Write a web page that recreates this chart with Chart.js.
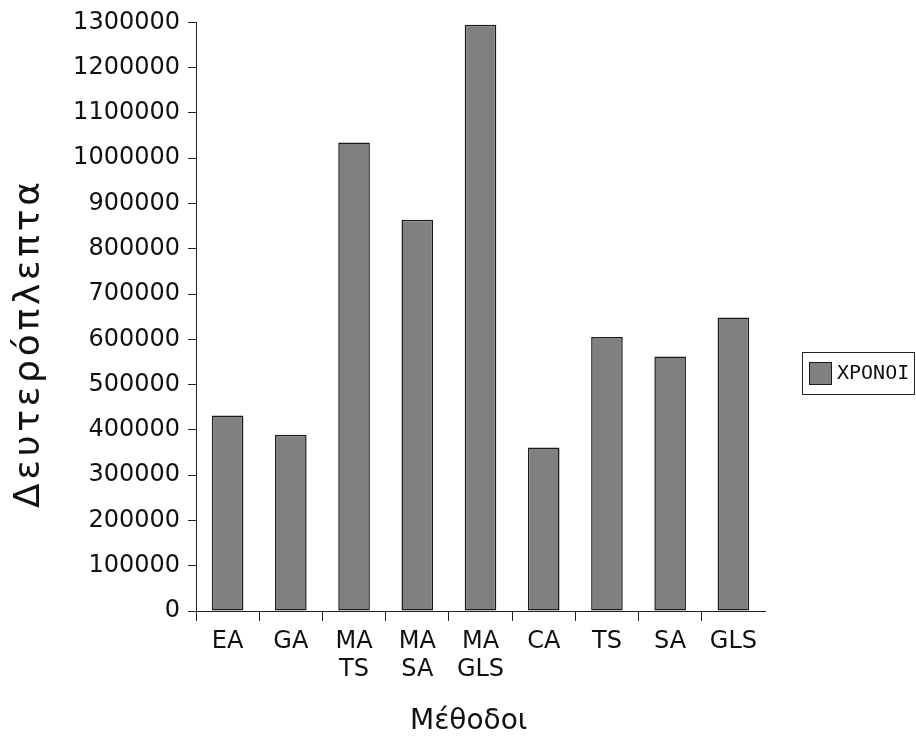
<!DOCTYPE html>
<html>
<head>
<meta charset="utf-8">
<script src="https://cdn.jsdelivr.net/npm/chart.js@4.4.1/dist/chart.umd.min.js"></script>
<style>
  html, body { margin: 0; padding: 0; background: #fff; }
  #wrap { width: 916px; height: 736px; }
</style>
</head>
<body>
<div id="wrap"><canvas id="chart" width="916" height="736"></canvas></div>
<script>
// values
const methods = [["EA"], ["GA"], ["MA", "TS"], ["MA", "SA"], ["MA", "GLS"], ["CA"], ["TS"], ["SA"], ["GLS"]];
const times = [432000, 389000, 1035000, 864000, 1295000, 361000, 605000, 562000, 648000];
const seriesLabel = "XPONOI";
const yTitle = "Δευτερόπλεπτα";
const xTitle = "Μέθοδοι";

// draw text spread out to a given length (the original titles are a bit loose)
function spacedText(ctx, text, x, y, length) {
    ctx.letterSpacing = "0px";
    const w = ctx.measureText(text).width;
    const extra = Math.max(0, (length - w) / (text.length - 1));
    ctx.letterSpacing = extra + "px";
    ctx.fillText(text, x, y);
    ctx.letterSpacing = "0px";
}

// axis titles and the small framed legend on the right, like the original
const decorations = {
    id: "decorations",
    afterDraw(chart) {
        const ds = chart.data.datasets[0];
        const ctx = chart.ctx;
        ctx.save();
        ctx.fillStyle = "#111";
        ctx.textAlign = "left";
        ctx.textBaseline = "alphabetic";

        ctx.font = "28px 'DejaVu Sans'";
        spacedText(ctx, xTitle, 410, 729, 117);

        ctx.save();
        ctx.translate(39, 508);
        ctx.rotate(-Math.PI / 2);
        ctx.font = "36px 'DejaVu Sans'";
        spacedText(ctx, yTitle, 0, 0, 326);
        ctx.restore();

        ctx.lineWidth = 1;
        ctx.strokeStyle = "#222";
        ctx.strokeRect(802.5, 352.5, 112, 42);
        ctx.fillStyle = ds.backgroundColor;
        ctx.fillRect(809, 362, 23, 23);
        ctx.strokeStyle = ds.borderColor;
        ctx.strokeRect(809.5, 362.5, 22, 22);
        ctx.fillStyle = "#111";
        ctx.font = "20px 'DejaVu Sans Mono'";
        ctx.textBaseline = "middle";
        ctx.fillText(ds.label, 837, 374);
        ctx.restore();
    }
};

new Chart(document.getElementById("chart"), {
    type: "bar",
    data: {
        labels: methods,
        datasets: [{
            label: seriesLabel,
            data: times,
            backgroundColor: "#808080",
            borderColor: "#1a1a1a",
            borderWidth: 1.5,
            borderSkipped: false,
            barPercentage: 0.5,
            categoryPercentage: 1.0
        }]
    },
    options: {
        responsive: false,
        animation: false,
        layout: { padding: { top: 20, right: 151, bottom: 0, left: 0 } },
        plugins: {
            legend: { display: false },
            tooltip: { enabled: false }
        },
        scales: {
            x: {
                afterFit(scale) { scale.height = 125; },
                grid: {
                    drawOnChartArea: false,
                    drawTicks: true,
                    tickLength: 10,
                    color: (c) => (c.type === "tick" ? "#222" : "rgba(0,0,0,0)")
                },
                border: { color: "#222", width: 1 },
                ticks: {
                    color: "#111",
                    padding: 7,
                    maxRotation: 0,
                    autoSkip: false,
                    font: { family: "DejaVu Sans", size: 24, lineHeight: 1.16 }
                }
            },
            y: {
                min: 0,
                max: 1300000,
                afterFit(scale) { scale.width = 196; },
                grid: {
                    drawOnChartArea: false,
                    drawTicks: true,
                    tickLength: 8,
                    color: "#222"
                },
                border: { color: "#222", width: 1 },
                ticks: {
                    stepSize: 100000,
                    color: "#111",
                    padding: 8,
                    font: { family: "DejaVu Sans", size: 24 },
                    callback: (v) => String(v)
                }
            }
        }
    },
    plugins: [decorations]
});
</script>
</body>
</html>
